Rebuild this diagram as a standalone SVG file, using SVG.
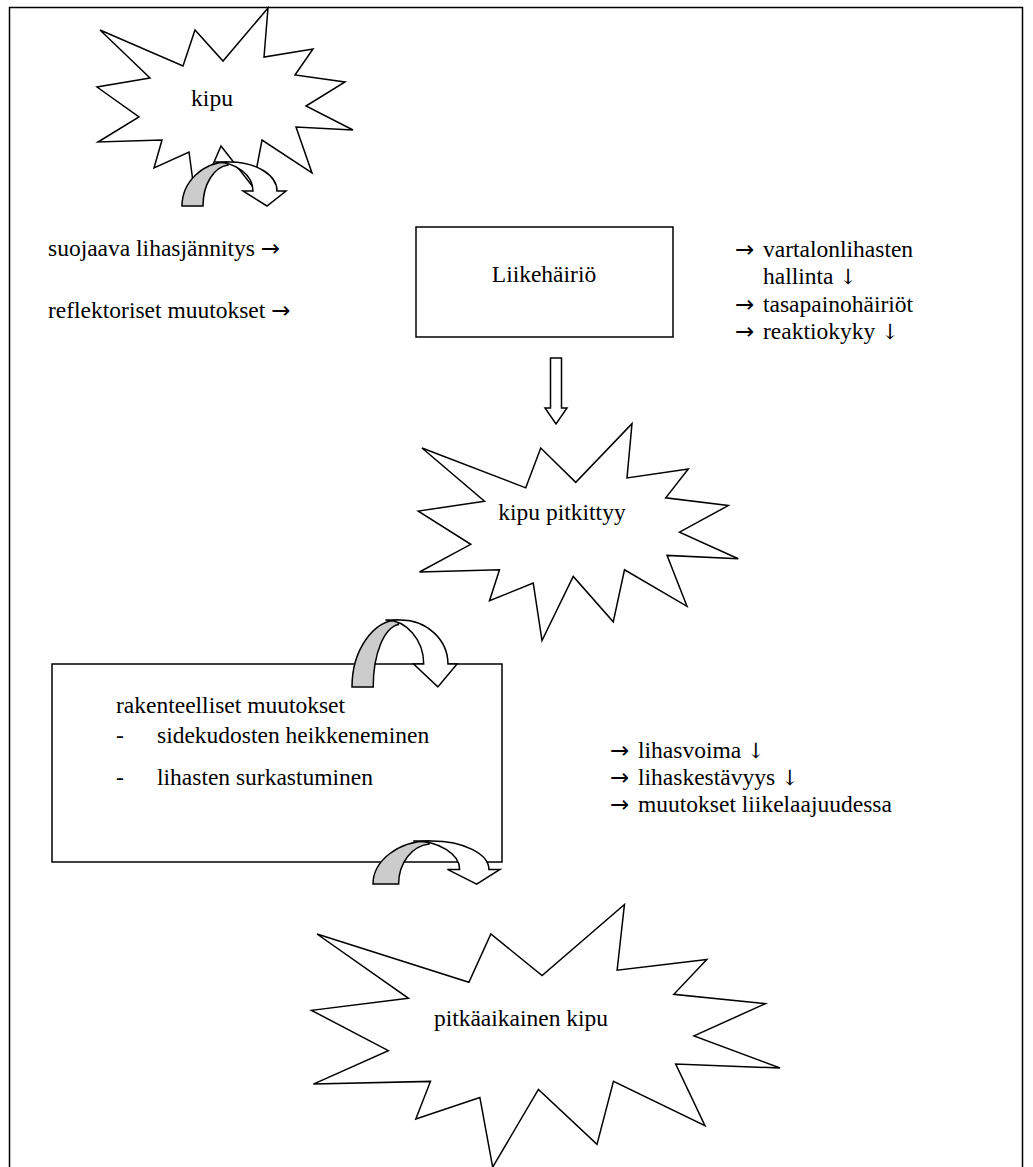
<svg xmlns="http://www.w3.org/2000/svg" width="1033" height="1167" viewBox="0 0 1033 1167">
<style>
text{font-family:"Liberation Serif","Times New Roman",serif;font-size:23.5px;fill:#000}
.ar{font-family:"DejaVu Sans",sans-serif;font-size:23px}
.dn{font-family:"DejaVu Serif",serif;font-size:21px}
.s{fill:#fff;stroke:#000;stroke-width:1.5}
.b{fill:#fff;stroke:#000;stroke-width:1.5;vector-effect:non-scaling-stroke}
.o{fill:#fff;stroke:#000;stroke-width:1.5;vector-effect:non-scaling-stroke}
.g{fill:#cccccc;stroke:#000;stroke-width:1.5;vector-effect:non-scaling-stroke}
</style>
<defs>
<polygon id="burst" class="b" points="100,30 183,66 195,30 223,61 268,8 264,57 313,49 295,75 345,82 306,106 353,130 296,127 312,173 262,140 253,187 221,146 196,204 189,152 154,168 162,140 98,142 139,117 97,87 150,78"/>
<g id="curl">
<path class="g" d="M0,44 C0,20 21,0 46,0 L46,3 C32,5 21,22 21,44 Z"/>
<path class="o" d="M33,0 L48,0 C74,0 95,13 95,29 L104,29 L85,44 L61,29 L71,29 C71,13 54,0 33,0 Z"/>
</g>
</defs>
<rect width="1033" height="1167" fill="#fff"/>
<path d="M9.5,1167 V7.5 H1022.5 V1167" fill="none" stroke="#000" stroke-width="1.5"/>

<g id="kipu">
<use href="#burst"/>
<text x="212" y="106" text-anchor="middle">kipu</text>
</g>

<g id="liikehairio">
<rect class="s" x="416" y="227" width="257" height="110"/>
<text x="544" y="282" text-anchor="middle">Liikehäiriö</text>
</g>

<g id="kipu-pitkittyy">
<use href="#burst" transform="matrix(1.25,0,0,1.107,297,414.8)"/>
<text x="562" y="520" text-anchor="middle">kipu pitkittyy</text>
</g>

<g id="rakenteelliset">
<rect class="s" x="52" y="664" width="450" height="198"/>
<text x="116" y="713">rakenteelliset muutokset</text>
<text x="116" y="743">-</text><text x="157" y="743">sidekudosten heikkeneminen</text>
<text x="116" y="785">-</text><text x="157" y="785">lihasten surkastuminen</text>
</g>

<g id="pitkaaikainen">
<use href="#burst" transform="matrix(1.83,0,0,1.34,134,893.8)"/>
<text x="521" y="1026" text-anchor="middle">pitkäaikainen kipu</text>
</g>

<g id="labels">
<text x="48" y="256">suojaava lihasjännitys <tspan class="ar">→</tspan></text>
<text x="48" y="318">reflektoriset muutokset <tspan class="ar">→</tspan></text>
<text x="735" y="257" class="ar">→</text><text x="763" y="257">vartalonlihasten</text>
<text x="763" y="284">hallinta <tspan class="dn">↓</tspan></text>
<text x="735" y="312" class="ar">→</text><text x="763" y="312">tasapainohäiriöt</text>
<text x="735" y="339" class="ar">→</text><text x="763" y="339">reaktiokyky <tspan class="dn">↓</tspan></text>
<text x="610" y="758" class="ar">→</text><text x="638" y="758">lihasvoima <tspan class="dn">↓</tspan></text>
<text x="610" y="785" class="ar">→</text><text x="638" y="785">lihaskestävyys <tspan class="dn">↓</tspan></text>
<text x="610" y="812" class="ar">→</text><text x="638" y="812">muutokset liikelaajuudessa</text>
</g>

<g id="connectors">
<use href="#curl" transform="translate(182,162)"/>
<path class="o" d="M550.5,358 H561.5 V408 H567 L556,424 L545,408 H550.5 Z"/>
<use href="#curl" transform="translate(352,620) scale(1.01,1.52)"/>
<use href="#curl" transform="translate(373,841) scale(1.22,0.98)"/>
</g>
</svg>
